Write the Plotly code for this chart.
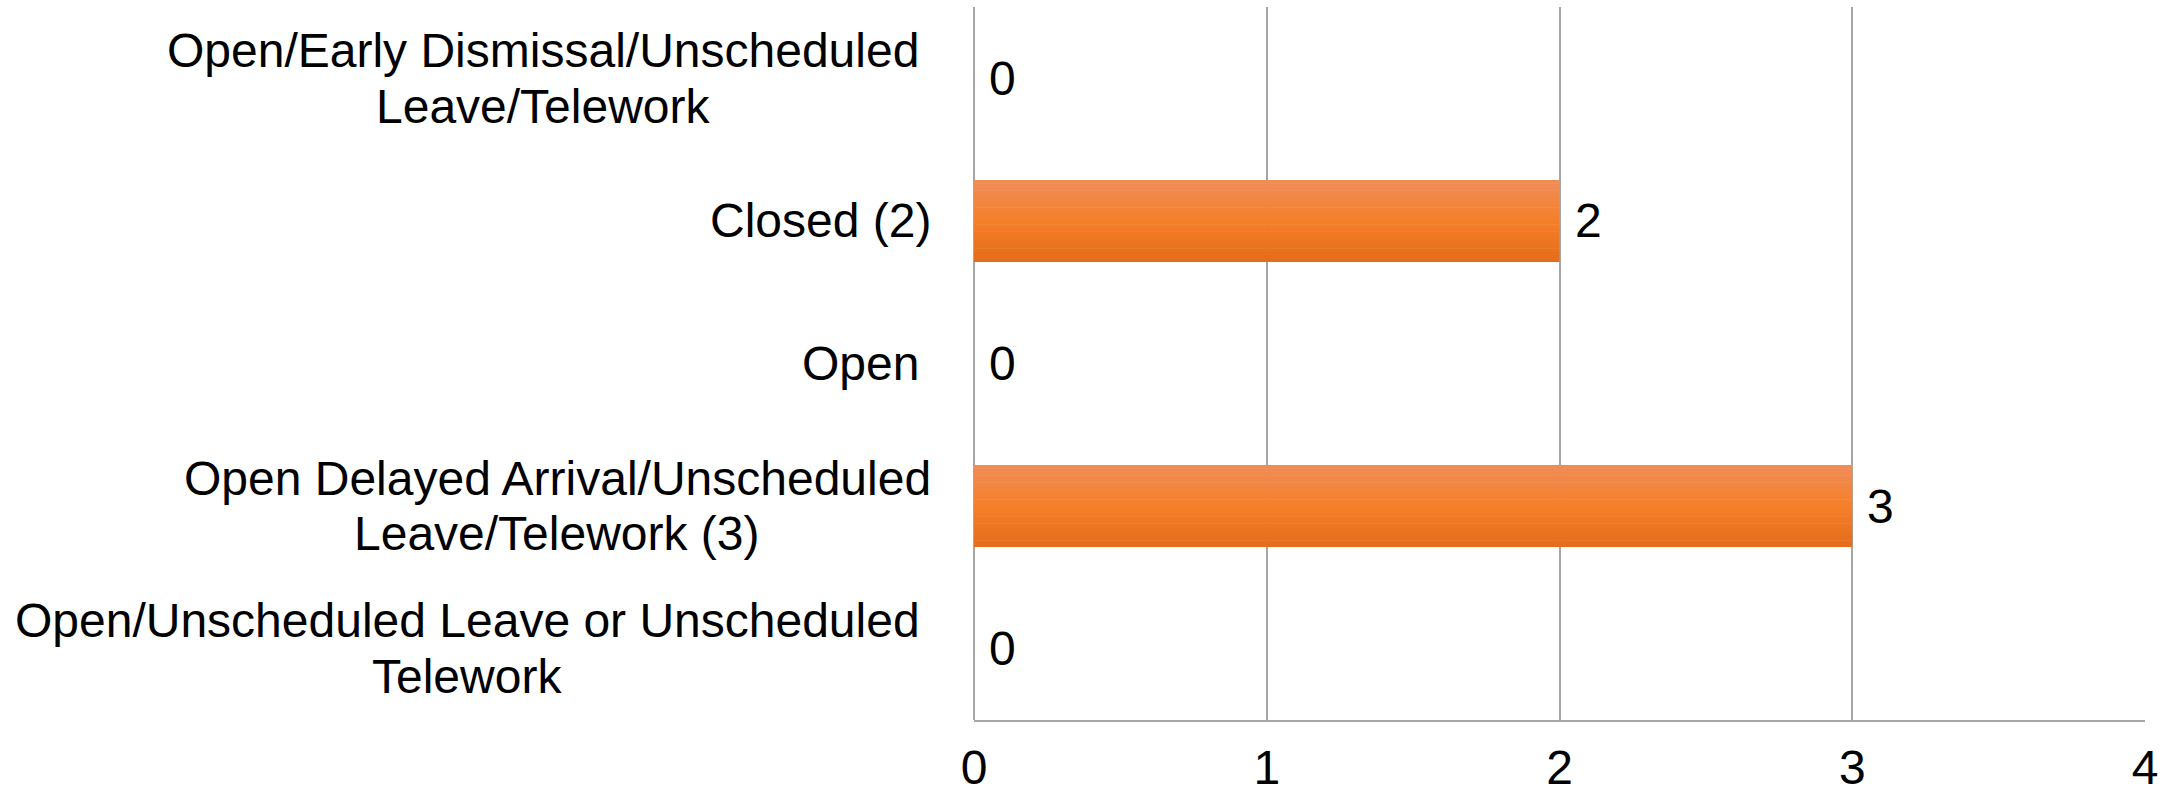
import plotly.graph_objects as go

categories = [
    "Open/Early Dismissal/Unscheduled<br>Leave/Telework",
    "Closed (2)",
    "Open",
    "Open Delayed Arrival/Unscheduled<br>Leave/Telework (3)",
    "Open/Unscheduled Leave or Unscheduled<br>Telework",
]
values = [0, 2, 0, 3, 0]
x_ticks = [0, 1, 2, 3, 4]

FONT = "Liberation Sans, Arial, sans-serif"
FS = 48
LINE_H = 55.6

# gradient for bars (top light -> middle -> bottom dark)
top_c = (240, 141, 88)
mid_c = (245, 127, 42)
bot_c = (228, 108, 26)


def lerp(a, b, t):
    return tuple(round(a[i] + (b[i] - a[i]) * t) for i in range(3))


bar_w = 0.575
n_strips = 24
fig = go.Figure()
for i in range(n_strips):
    t = (i + 0.5) / n_strips
    if t < 0.5:
        c = lerp(top_c, mid_c, t / 0.5)
    else:
        c = lerp(mid_c, bot_c, (t - 0.5) / 0.5)
    sw = bar_w / n_strips
    fig.add_trace(go.Bar(
        x=values,
        y=categories,
        orientation="h",
        offset=-bar_w / 2 + i * sw,
        width=sw * 1.15 if i < n_strips - 1 else sw,
        marker=dict(color="rgb(%d,%d,%d)" % c, line=dict(width=0)),
        showlegend=False,
        hoverinfo="x+y",
    ))

PLOT_L = 974
# horizontal centre (px from page left) of each multi-line category label
label_centers = [543, 820, 860, 557, 467]

annotations = []
# category labels, centered multi-line, line by line
for cat, cx in zip(categories, label_centers):
    lines = cat.split("<br>")
    n = len(lines)
    for j, ln in enumerate(lines):
        annotations.append(dict(
            xref="paper", yref="y", x=0, y=cat,
            text=ln, showarrow=False, xanchor="center", yanchor="middle",
            xshift=cx - PLOT_L, yshift=-(j - (n - 1) / 2) * LINE_H,
            font=dict(family=FONT, size=FS, color="black"),
        ))
# data labels
for cat, v in zip(categories, values):
    annotations.append(dict(
        xref="x", yref="y", x=v, y=cat, text=str(v), showarrow=False,
        xanchor="left", yanchor="middle", xshift=13,
        font=dict(family=FONT, size=FS, color="black"),
    ))

fig.update_layout(
    width=2178, height=798,
    margin=dict(l=PLOT_L, r=33, t=7, b=78, autoexpand=False),
    paper_bgcolor="white", plot_bgcolor="white",
    barmode="overlay",
    font=dict(family=FONT, size=FS, color="black"),
    annotations=annotations,
    xaxis=dict(
        range=[0, 4], tickvals=x_ticks, ticktext=[str(t) for t in x_ticks],
        showgrid=True, gridcolor="#A6A6A6", gridwidth=1.5,
        zeroline=True, zerolinecolor="#A6A6A6", zerolinewidth=1.5,
        showline=True, linecolor="#A6A6A6", linewidth=2,
        ticks="", ticklabelstandoff=4, automargin=False,
        tickfont=dict(family=FONT, size=FS, color="black"),
    ),
    yaxis=dict(
        autorange="reversed", showticklabels=False, showgrid=False,
        zeroline=False, showline=False, ticks="", automargin=False,
    ),
)

fig.write_html(
    "out.html",
    config={"displayModeBar": False},
    post_script="document.body.style.margin='0';document.body.style.overflow='hidden';",
)
